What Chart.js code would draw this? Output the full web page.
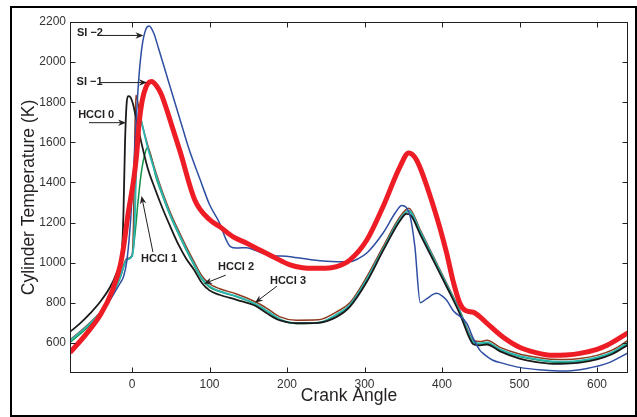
<!DOCTYPE html>
<html>
<head>
<meta charset="utf-8">
<script src="https://cdn.jsdelivr.net/npm/chart.js@4.4.0/dist/chart.umd.min.js"></script>
<style>
  html, body { margin: 0; padding: 0; background: #fff; }
</style>
</head>
<body>
<canvas id="grafico" width="637" height="417"></canvas>
<script>
// Temperatura del cilindro frente al ángulo de cigüeñal, seis casos de combustión

// Ejes
const xTicks = [0, 100, 200, 300, 400, 500, 600];
const yTicks = [600, 800, 1000, 1200, 1400, 1600, 1800, 2000, 2200];

// HCCI 0 (negro)
const hcci0Angulo = [-80,-67,-54,-41,-28,-20,-13,-11,-9,-7,-5,-2,1,4,8,12,20,30,40,50,60,70,80,90,100,113,135,159,175,191,212,240,264,281,303,324,346,354,360,372,389,406,423,436,441,449,458,475,500,520,543,560,578,600,620,640];
const hcci0Temp = [655,697,747,805,880,947,1060,1250,1600,1790,1830,1825,1795,1745,1670,1600,1475,1365,1265,1175,1090,1020,965,900,862,840,815,785,745,712,698,700,730,780,905,1060,1210,1243,1235,1140,1010,880,745,620,592,588,592,558,522,505,496,497,502,518,545,590];

// HCCI 1 (verde)
const hcci1Angulo = [-80,-60,-40,-25,-15,-7,0,4,8,12.5,17,19.5,22,26,30,40,50,60,70,80,90,100,113,135,159,175,191,212,240,264,281,303,324,346,357,372,389,406,423,436,441,449,458,475,500,520,543,560,578,600,620,640];
const hcci1Temp = [602,668,750,840,928,1013,1035,1147,1313,1463,1548,1572,1560,1510,1440,1328,1228,1143,1063,988,918,878,856,830,793,756,716,697,699,740,788,915,1065,1216,1257,1152,1019,887,754,630,600,595,600,565,532,517,505,504,509,525,551,598];

// HCCI 2 (cian)
const hcci2Angulo = [-80,-60,-40,-25,-15,-7,0,3,5,7,8.5,10,13,20,30,40,50,60,70,80,90,100,113,135,159,175,191,212,240,264,281,303,324,346,357,372,389,406,423,436,441,449,458,475,500,520,543,560,578,600,620,640];
const hcci2Temp = [612,676,755,842,930,1015,1032,1150,1400,1680,1753,1740,1690,1578,1448,1333,1233,1148,1068,993,923,883,858,832,795,758,718,699,701,742,790,918,1068,1220,1260,1155,1022,890,757,633,603,598,603,568,535,520,508,507,512,528,555,603];

// HCCI 3 (marrón)
const hcci3Angulo = [-80,-60,-40,-25,-15,-7,0,2,3.5,5,7,10,15,20,30,40,50,60,70,80,90,100,113,135,159,175,191,212,240,264,281,303,324,346,357,372,389,406,423,436,441,449,458,475,500,520,543,560,578,600,620,640];
const hcci3Temp = [615,680,758,845,935,1020,1035,1200,1600,1835,1810,1740,1660,1590,1460,1345,1245,1160,1080,1005,935,895,870,844,805,770,730,713,715,755,800,930,1080,1230,1272,1163,1030,897,763,640,612,607,613,578,545,530,518,517,522,538,565,612];

// SI -1 (rojo grueso)
const siM1Angulo = [-80,-60,-40,-25,-15,-11,-5,2,6,9,13,18,25,32,38,51,62,81,100,113,130,148,165,182,204,220,234,250,264,281,303,324,346,357,367,389,406,414,423,430,440,449,458,479,500,520,543,560,578,600,613,640];
const siM1Temp = [552,640,745,865,990,1075,1245,1410,1540,1690,1805,1875,1903,1880,1838,1688,1555,1313,1215,1180,1130,1097,1063,1030,989,975,972,972,980,1013,1113,1280,1480,1547,1513,1280,1048,913,798,762,753,730,698,628,578,553,538,540,548,568,588,650];

// SI -2 (azul)
const siM2Angulo = [-80,-60,-40,-25,-15,-11,-7,-3,2,6,9,13,18,22,28,34,47,64,73,88,100,113,122,127,135,148,160,174,204,234,264,281,292,303,324,340,348,354,359,365,372,380,393,400,406,414,432,440,449,453,465,479,500,530,556,587,613,640];
const siM2Temp = [558,642,742,835,900,930,1000,1150,1450,1750,1930,2080,2165,2180,2145,2072,1905,1688,1573,1413,1290,1198,1110,1080,1073,1075,1060,1040,1030,1013,1005,1005,1020,1048,1148,1250,1285,1275,1230,1080,800,820,847,835,813,763,697,625,563,548,515,498,478,465,460,473,498,550];

// Etiquetas con flecha (coordenadas en unidades de datos)
const etiquetas = [
    { texto: 'SI \u22122', x: -71, y: 2143, desde: [-41, 2133], hasta: [14.8, 2133] },
    { texto: 'SI \u22121', x: -71.5, y: 1903, desde: [-41, 1898], hasta: [19.4, 1898] },
    { texto: 'HCCI 0', x: -69.5, y: 1738, desde: [-55.5, 1698], hasta: [-7.7, 1698] },
    { texto: 'HCCI 1', x: 11.6, y: 1018, desde: [27, 1053], hasta: [12.3, 1333] },
    { texto: 'HCCI 2', x: 111, y: 980, desde: [121, 938], hasta: [93, 895] },
    { texto: 'HCCI 3', x: 178, y: 908, desde: [187, 883], hasta: [158.7, 800] }
];

const fuente = "'Liberation Sans', Arial, Helvetica, sans-serif";

function pares(angulos, temps) {
    return angulos.map((a, i) => ({ x: a, y: temps[i] }));
}

function serie(angulos, temps, color, grosor) {
    return {
        data: pares(angulos, temps),
        borderColor: color,
        borderWidth: grosor,
        pointRadius: 0,
        fill: false,
        cubicInterpolationMode: 'monotone'
    };
}

// Dibuja una flecha con punta rellena
function flecha(ctx, x1, y1, x2, y2) {
    const ang = Math.atan2(y2 - y1, x2 - x1);
    const largo = 8, ancho = 3.2;
    const c = Math.cos(ang), s = Math.sin(ang);
    ctx.beginPath();
    ctx.moveTo(x1, y1);
    ctx.lineTo(x2 - largo * 0.7 * c, y2 - largo * 0.7 * s);
    ctx.stroke();
    ctx.beginPath();
    ctx.moveTo(x2, y2);
    ctx.lineTo(x2 - largo * c + ancho * s, y2 - largo * s - ancho * c);
    ctx.lineTo(x2 - largo * 0.7 * c, y2 - largo * 0.7 * s);
    ctx.lineTo(x2 - largo * c - ancho * s, y2 - largo * s + ancho * c);
    ctx.closePath();
    ctx.fill();
}

const marcoPlugin = {
    id: 'marco',
    afterDraw(chart) {
        const ctx = chart.ctx;
        const xs = chart.scales.x, ys = chart.scales.y;
        const a = chart.chartArea;
        const L = Math.round(a.left) + 0.5, R = Math.round(a.right) - 0.5;
        const T = Math.round(a.top) + 0.5, B = Math.round(a.bottom) - 0.5;

        ctx.save();
        ctx.strokeStyle = '#231f20';
        ctx.lineWidth = 1;
        ctx.strokeRect(L, T, R - L, B - T);

        // marcas hacia dentro en los cuatro lados
        ctx.beginPath();
        xTicks.forEach(v => {
            const px = Math.round(xs.getPixelForValue(v)) + 0.5;
            ctx.moveTo(px, B); ctx.lineTo(px, B - 5);
            ctx.moveTo(px, T); ctx.lineTo(px, T + 5);
        });
        yTicks.forEach(v => {
            const py = Math.round(ys.getPixelForValue(v)) + 0.5;
            ctx.moveTo(L, py); ctx.lineTo(L + 5, py);
            ctx.moveTo(R, py); ctx.lineTo(R - 5, py);
        });
        ctx.stroke();

        // recuadro exterior de la figura
        ctx.lineWidth = 2;
        ctx.strokeStyle = '#000';
        ctx.strokeRect(11, 7, 625, 409);

        // títulos de los ejes
        ctx.fillStyle = '#231f20';
        ctx.font = '17.5px ' + fuente;
        ctx.textAlign = 'center';
        ctx.textBaseline = 'middle';
        ctx.fillText('Crank Angle', (a.left + a.right) / 2, 396);
        ctx.save();
        ctx.translate(29, (a.top + a.bottom) / 2);
        ctx.rotate(-Math.PI / 2);
        ctx.fillText('Cylinder Temperature (K)', 0, 0);
        ctx.restore();

        // etiquetas de cada caso
        ctx.font = 'bold 11px ' + fuente;
        ctx.textAlign = 'left';
        ctx.fillStyle = '#231f20';
        ctx.strokeStyle = '#231f20';
        ctx.lineWidth = 1;
        etiquetas.forEach(e => {
            ctx.fillText(e.texto, xs.getPixelForValue(e.x), ys.getPixelForValue(e.y));
            flecha(ctx,
                xs.getPixelForValue(e.desde[0]), ys.getPixelForValue(e.desde[1]),
                xs.getPixelForValue(e.hasta[0]), ys.getPixelForValue(e.hasta[1]));
        });
        ctx.restore();
    }
};

const ctx = document.getElementById('grafico').getContext('2d');
new Chart(ctx, {
    type: 'line',
    data: {
        datasets: [
            serie(siM1Angulo, siM1Temp, '#ee1d25', 5),
            serie(siM2Angulo, siM2Temp, '#2e4ea2', 1.5),
            serie(hcci0Angulo, hcci0Temp, '#1a1a1a', 1.8),
            serie(hcci2Angulo, hcci2Temp, '#2bb6b2', 1.8),
            serie(hcci3Angulo, hcci3Temp, '#8e3b1f', 1.5),
            serie(hcci1Angulo, hcci1Temp, '#11934a', 1.5)
        ]
    },
    options: {
        responsive: false,
        animation: false,
        layout: { padding: { left: 0, top: 22, right: 9, bottom: 0 } },
        plugins: {
            legend: { display: false },
            tooltip: { enabled: false }
        },
        scales: {
            x: {
                type: 'linear',
                min: -80,
                max: 640,
                grid: { display: false, drawTicks: false },
                border: { display: false },
                afterBuildTicks: (s) => { s.ticks = xTicks.map(v => ({ value: v })); },
                afterFit: (s) => { s.height = 44; },
                ticks: {
                    padding: 4,
                    color: '#333',
                    font: { family: fuente, size: 12 },
                    maxRotation: 0,
                    callback: (v) => String(v)
                }
            },
            y: {
                type: 'linear',
                min: 450,
                max: 2200,
                grid: { display: false, drawTicks: false },
                border: { display: false },
                afterBuildTicks: (s) => { s.ticks = yTicks.map(v => ({ value: v })); },
                afterFit: (s) => { s.width = 70; },
                ticks: {
                    padding: 4,
                    color: '#333',
                    font: { family: fuente, size: 12 },
                    callback: (v) => String(v)
                }
            }
        }
    },
    plugins: [marcoPlugin]
});
</script>
</body>
</html>
